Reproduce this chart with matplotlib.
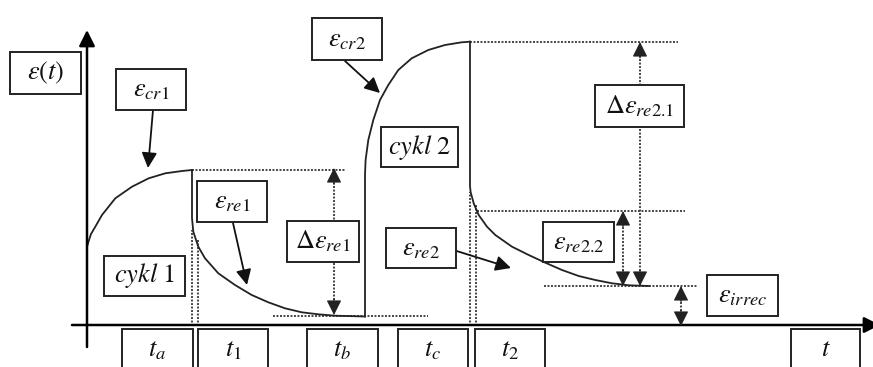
import numpy as np
import matplotlib.pyplot as plt
from matplotlib.patches import Rectangle

plt.rcParams['mathtext.fontset'] = 'stix'

# key times (origin of the time axis = 0)
t_a = 105      # end of loading, cycle 1
t_b = 278      # end of recovery 1 / start of cycle 2
t_c = 383      # end of loading, cycle 2
t_end = 553    # end of recovery 2

# strain levels
eps_cr1 = 156
eps_res1 = 10
eps_cr2 = 284
eps_re22 = 115
eps_irrec = 40

# curves
creep1_t = [0, 0, 1.7, 4, 8.3, 15, 28.3, 45, 61.7, 78.3, 95, 105]
creep1_eps = [0, 79, 85, 92, 99.3, 111, 127.7, 139.3, 147.7, 152.7, 155, 156]

rec1_t = [105, 105, 106.3, 111.3, 118, 131.3, 148, 164.7, 181.3, 198, 214.7, 231.3, 248, 278]
rec1_eps = [156, 108, 94.3, 79.3, 67.7, 52.7, 41, 31, 23.7, 17.7, 13.7, 11.7, 10.3, 9.5]

creep2_t = [278, 278, 278.6, 281.3, 286.3, 293, 301.3, 311.3, 324.7, 341.3, 358, 374.7, 383]
creep2_eps = [9.5, 151, 166, 186, 206, 226, 241, 256, 267.7, 276, 281, 283.7, 284.3]

rec2_t = [383, 383, 383.6, 386.7, 391.7, 400, 408.3, 425, 441.7, 458.3, 475, 491.7, 508.3, 525, 541.7, 561.7]
rec2_eps = [284.3, 140, 134, 122.7, 111, 99.3, 91, 79.3, 71, 63.3, 56, 50, 46, 42.7, 40.7, 40]

# label boxes: (text, left, bottom, width, height)
labels = [
    (r'$\varepsilon(t)$', -77, 232, 71, 42),
    (r'$\varepsilon_{cr1}$', 29, 216, 70, 41),
    (r'$cykl\ 1$', 17, 30, 81, 40),
    (r'$\varepsilon_{re1}$', 110, 104, 70, 41),
    (r'$\Delta\varepsilon_{re1}$', 200, 64, 72, 41),
    (r'$\varepsilon_{cr2}$', 225, 266, 70, 42),
    (r'$cykl\ 2$', 294, 159, 77, 40),
    (r'$\varepsilon_{re2}$', 299, 58, 70, 40),
    (r'$\varepsilon_{re2.2}$', 456, 64, 71, 40),
    (r'$\Delta\varepsilon_{re2.1}$', 508, 199, 89, 42),
    (r'$\varepsilon_{irrec}$', 620, 10, 71, 41),
    (r'$t_a$', 35, -44, 71, 41),
    (r'$t_1$', 111, -44, 70, 41),
    (r'$t_b$', 220, -44, 71, 41),
    (r'$t_c$', 311, -44, 70, 41),
    (r'$t_2$', 388, -44, 70, 41),
    (r'$t$', 704, -44, 69, 41),
]

fig = plt.figure(figsize=(8.73, 3.67), dpi=100)
ax = fig.add_axes([0, 0, 1, 1])
ax.set_xlim(-87, 786)
ax.set_ylim(-41, 326)
ax.axis('off')

dot = dict(color='#444444', lw=1.4, ls=(0, (1, 0.8)))

# dotted guide lines
ax.plot([t_a, 258], [eps_cr1, eps_cr1], **dot)
ax.plot([186, 341], [eps_res1, eps_res1], **dot)
ax.plot([t_c, 591], [eps_cr2, eps_cr2], **dot)
ax.plot([390, 598], [eps_re22, eps_re22], **dot)
ax.plot([457, 610], [eps_irrec, eps_irrec], **dot)
ax.plot([t_a, t_a], [0, 96], **dot)
ax.plot([t_a + 6, t_a + 6], [0, 86], **dot)
ax.plot([t_c, t_c], [0, 134], **dot)
ax.plot([t_c + 6, t_c + 6], [0, 121], **dot)

# axes with arrows
ax.annotate('', xy=(0, 296), xytext=(0, -21), annotation_clip=False,
            arrowprops=dict(arrowstyle='-|>', color='black', lw=1.8,
                            mutation_scale=24, shrinkA=0, shrinkB=0))
ax.annotate('', xy=(793, 1), xytext=(-15, 1), annotation_clip=False,
            arrowprops=dict(arrowstyle='-|>', color='black', lw=1.8,
                            mutation_scale=24, shrinkA=0, shrinkB=0))

# curves
for xs, ys in [(creep1_t, creep1_eps), (rec1_t, rec1_eps),
               (creep2_t, creep2_eps), (rec2_t, rec2_eps)]:
    ax.plot(xs, ys, color='#222222', lw=1.3, solid_joinstyle='round')


def head(x, y, direction):
    # small filled arrow head with its tip at (x, y)
    ax.annotate('', xy=(x, y), xytext=(x, y - direction * 16),
                arrowprops=dict(arrowstyle='-|>', color='#222222', lw=0.8,
                                mutation_scale=23, shrinkA=0, shrinkB=0))


# double dotted arrows
for x, y0, y1 in [(247, eps_res1 + 1, eps_cr1 + 2), (553, eps_irrec, eps_cr2),
                  (536, eps_irrec, eps_re22), (594, 0, eps_irrec)]:
    ax.plot([x, x], [y0 + 8, y1 - 8], **dot)
    head(x, y1, 1)
    head(x, y0, -1)

# pointer arrows
for (x0, y0), (x1, y1) in [((66, 216), (61, 158)), ((146, 103), (160, 41)),
                           ((258, 265), (293, 233)), ((360, 78), (424, 58))]:
    ax.annotate('', xy=(x1, y1), xytext=(x0, y0),
                arrowprops=dict(arrowstyle='-|>', color='#111111', lw=1.3,
                                mutation_scale=23, shrinkA=0, shrinkB=0))

# label boxes
for txt, l, b, w, h in labels:
    ax.add_patch(Rectangle((l, b), w, h, facecolor='white', edgecolor='#222222',
                           lw=1.4, zorder=5))
    ax.text(l + w / 2, b + h / 2, txt, ha='center', va='center',
            fontsize=19, color='#111111', zorder=6)

fig.savefig('out.png', dpi=100, facecolor='white')
